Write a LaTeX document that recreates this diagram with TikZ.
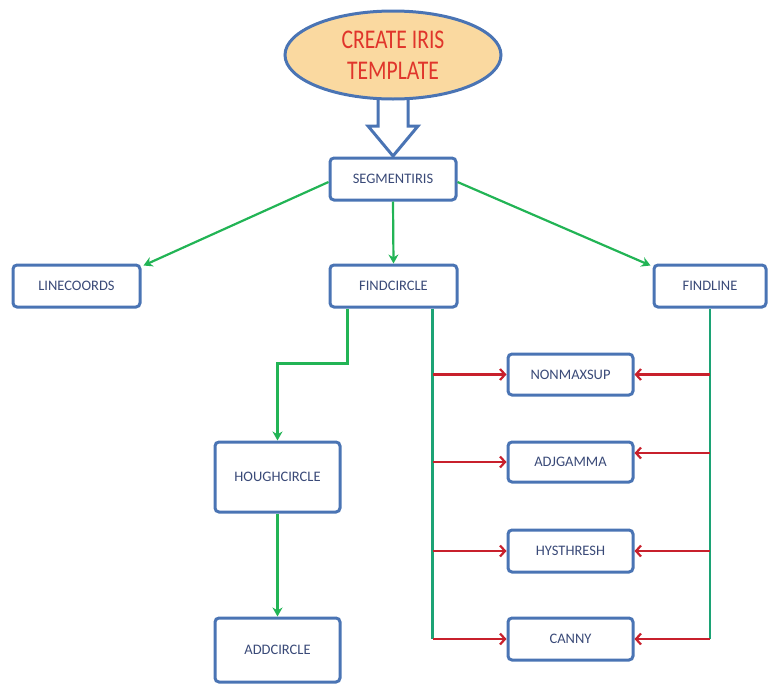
\documentclass[tikz,border=0pt]{standalone}
\usepackage{fontspec}
\setmainfont{Carlito}
\newfontfamily\titlefont[FakeStretch=0.8]{Carlito}
\usetikzlibrary{shapes.geometric,arrows.meta,calc}
\definecolor{boxblue}{HTML}{4A74B4}
\definecolor{txtblue}{HTML}{3A4A78}
\definecolor{ovalfill}{HTML}{FAD9A0}
\definecolor{titlered}{HTML}{E0352B}
\definecolor{agreen}{HTML}{22B455}
\definecolor{bgreen}{HTML}{1CA375}
\definecolor{ared}{HTML}{C8202C}
\tikzset{
  box/.style={draw=boxblue, line width=3pt, rounded corners=4pt, fill=white,
    text=txtblue, font=\fontsize{14.5}{16}\selectfont, inner sep=0pt, minimum height=42pt},
  garrow/.style={draw=agreen, line width=2.2pt, -{Stealth[length=9pt,width=10pt]}},
  bus/.style={draw=bgreen, line width=2.2pt},
  rarrow/.style={draw=ared, line width=2.2pt, -{Straight Barb[length=5pt,width=11pt,line width=2.2pt]}}
}
\begin{document}
\begin{tikzpicture}[x=1pt,y=-1pt]
\useasboundingbox (0,0) rectangle (769,686);
% block arrow
\filldraw[draw=boxblue, fill=white, line width=3pt, line join=miter]
  (378,95) -- (408,95) -- (408,126) -- (418,126) -- (393,156) -- (368,126) -- (378,126) -- cycle;
\node[ellipse, draw=boxblue, line width=3pt, fill=ovalfill, minimum width=216pt, minimum height=88pt,
  text=titlered, align=center, font=\titlefont\fontsize{27}{31}\selectfont] (create) at (393,55)
  {CREATE IRIS\\TEMPLATE};
\node[box, minimum width=126pt] (seg) at (393,179) {SEGMENTIRIS};
\node[box, minimum width=127pt] (linec) at (76.5,286) {LINECOORDS};
\node[box, minimum width=127pt] (findc) at (393.5,286) {FINDCIRCLE};
\node[box, minimum width=112pt] (findl) at (710,286) {FINDLINE};
\node[box, minimum width=125pt, minimum height=70pt] (hough) at (277.5,477) {HOUGHCIRCLE};
\node[box, minimum width=125pt, minimum height=64pt] (addc) at (277.5,650) {ADDCIRCLE};
\node[box, minimum width=125pt, minimum height=41pt] (nonmax) at (570.5,374.5) {NONMAXSUP};
\node[box, minimum width=125pt, minimum height=40pt] (adjg) at (570.5,462) {ADJGAMMA};
\node[box, minimum width=125pt] (hyst) at (570.5,551) {HYSTHRESH};
\node[box, minimum width=125pt] (canny) at (570.5,639) {CANNY};
% green arrows
\draw[garrow] ($(seg.west)+(0,3)$) -- ($(linec.north east)+(2,2)$);
\draw[garrow] ($(seg.east)+(0,3)$) -- ($(findl.north west)+(-2,2)$);
\draw[garrow] (seg.south) -- (findc.north);
\draw[garrow] ($(findc.south)+(-46,0)$) -- ++(0,55) -| (hough.north);
\draw[garrow] (hough.south) -- (addc.north);
% buses
\coordinate (busL) at ($(findc.south)+(39,0)$);
\coordinate (busR) at (findl.south);
\draw[bus] (busL) -- (busL |- canny.west);
\draw[bus] (busR) -- (busR |- canny.east);
% red arrows
\draw[rarrow] (busL |- nonmax.west) -- (nonmax.west);
\draw[rarrow] (busL |- adjg.west) -- (adjg.west);
\draw[rarrow] (busL |- hyst.west) -- (hyst.west);
\draw[rarrow] (busL |- canny.west) -- (canny.west);
\draw[rarrow] (busR |- nonmax.east) -- (nonmax.east);
\draw[rarrow] ($(busR |- adjg.east)+(0,-9)$) -- ($(adjg.east)+(0,-9)$);
\draw[rarrow] (busR |- hyst.east) -- (hyst.east);
\draw[rarrow] (busR |- canny.east) -- (canny.east);
\end{tikzpicture}
\end{document}
